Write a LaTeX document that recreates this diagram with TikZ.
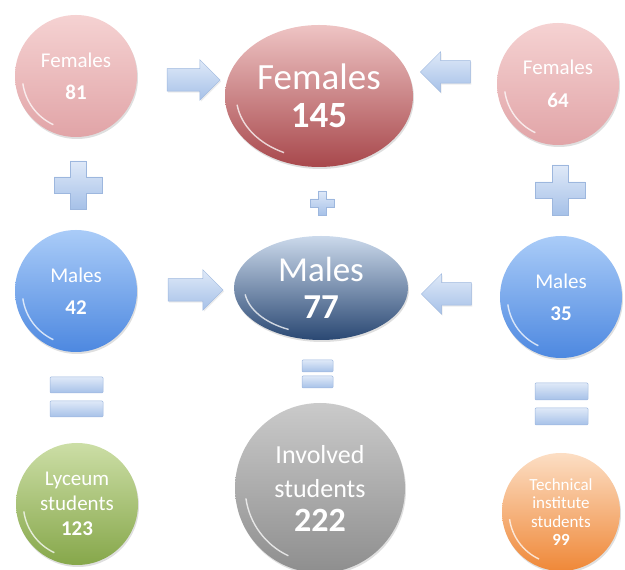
\documentclass[tikz,border=0pt]{standalone}
\usepackage{fontspec}
\setmainfont{Carlito}
\usetikzlibrary{shapes.geometric,shapes.arrows,shadows,calc}

\definecolor{femTop}{HTML}{F5D2D2}
\definecolor{femBot}{HTML}{E1A4A7}
\definecolor{femsTop}{HTML}{EEC4C4}
\definecolor{femsBot}{HTML}{A8484C}
\definecolor{malTop}{HTML}{AACCF8}
\definecolor{malBot}{HTML}{4D88E0}
\definecolor{malsTop}{HTML}{CBD9EB}
\definecolor{malsBot}{HTML}{2A4873}
\definecolor{lycTop}{HTML}{CCDEA6}
\definecolor{lycBot}{HTML}{86A74A}
\definecolor{invTop}{HTML}{CACACA}
\definecolor{invBot}{HTML}{8E8E8E}
\definecolor{tecTop}{HTML}{FCDEC4}
\definecolor{tecBot}{HTML}{EF8838}
\definecolor{symTop}{HTML}{DFE9F8}
\definecolor{symBot}{HTML}{A6C1E8}
\definecolor{symEdge}{HTML}{9DB7DE}

% white glass rim on the lower left of a bubble
\newcommand{\glossrim}{%
  \draw[white,line width=1.4pt,opacity=.75]
    let \p1=(path picture bounding box.north east),
        \p2=(path picture bounding box.center),
        \n1={\x1-\x2}, \n2={\y1-\y2}
    in ($(\p2)+(188:{0.88*\n1} and {0.88*\n2})$)
       arc[start angle=188,end angle=245,x radius=0.88*\n1,y radius=0.88*\n2];}

% plus sign: centre, half arm, half thickness
\newcommand{\plussign}[3]{%
  \path[sym] (#1) ++(-#3,-#2) -- ++(2*#3,0) -- ++(0,#2-#3) -- ++(#2-#3,0)
    -- ++(0,2*#3) -- ++(-#2+#3,0) -- ++(0,#2-#3) -- ++(-2*#3,0)
    -- ++(0,-#2+#3) -- ++(-#2+#3,0) -- ++(0,-2*#3) -- ++(#2-#3,0) -- cycle;}

\tikzset{
  bubble/.style={circle,inner sep=0pt,text=white,align=center,
    drop shadow={opacity=.25,shadow xshift=1pt,shadow yshift=-2pt},
    path picture={\glossrim}},
  oval/.style={ellipse,inner sep=0pt,text=white,align=center,
    drop shadow={opacity=.25,shadow xshift=1pt,shadow yshift=-2pt},
    path picture={\glossrim}},
  sym/.style={top color=symTop,bottom color=symBot,draw=symEdge,line width=.5pt},
  blockarrow/.style={single arrow,sym,inner sep=0pt,text height=22pt,text depth=0pt,
    single arrow head extend=9pt,
    drop shadow={opacity=.15,shadow xshift=1pt,shadow yshift=-1.5pt}}
}

\begin{document}
\begin{tikzpicture}[x=1pt,y=1pt]
  \useasboundingbox (0,0) rectangle (625,570);

  % females row
  \node (F81) at (76,494) [bubble,minimum size=122pt,top color=femTop,bottom color=femBot,
    font=\fontsize{21}{32}\selectfont] {Females\\\textbf{81}};
  \node (F145) at (319,474) [oval,minimum width=188pt,minimum height=142pt,
    top color=femsTop,bottom color=femsBot,font=\fontsize{37}{38}\selectfont] {Females\\\textbf{145}};
  \node (F64) at (558,486) [bubble,minimum size=122pt,top color=femTop,bottom color=femBot,
    font=\fontsize{21}{33}\selectfont] {Females\\\textbf{64}};

  % males row
  \node (M42) at (76,279) [bubble,minimum size=122pt,top color=malTop,bottom color=malBot,
    font=\fontsize{21}{32}\selectfont] {Males\\\textbf{42}};
  \node (M77) at (321,282) [oval,minimum width=174pt,minimum height=104pt,
    top color=malsTop,bottom color=malsBot,font=\fontsize{35}{37}\selectfont] {Males\\\textbf{77}};
  \node (M35) at (561,273) [bubble,minimum size=122pt,top color=malTop,bottom color=malBot,
    font=\fontsize{21}{32}\selectfont] {Males\\\textbf{35}};

  % totals row
  \node (LYC) at (77,66) [bubble,minimum size=122pt,top color=lycTop,bottom color=lycBot,
    font=\fontsize{21}{25}\selectfont] {Lyceum\\students\\\textbf{123}};
  \node (INV) at (320,82) [bubble,minimum size=170pt,top color=invTop,bottom color=invBot,
    font=\fontsize{26}{34}\selectfont] {Involved\\students\\{\fontsize{34}{37}\selectfont\bfseries 222}};
  \node (TEC) at (561,58) [bubble,minimum size=118pt,top color=tecTop,bottom color=tecBot,
    font=\fontsize{17}{18.5}\selectfont] {Technical\\institute\\students\\\textbf{99}};

  % block arrows
  \node (A1) at (188,490) [blockarrow,minimum height=53pt] {};
  \node (A2) at (451,498) [blockarrow,minimum height=50pt,shape border rotate=180] {};
  \node (A3) at (190,280) [blockarrow,minimum height=55pt] {};
  \node (A4) at (452,276) [blockarrow,minimum height=50pt,shape border rotate=180] {};

  % plus signs
  \coordinate (P1) at (78,385);
  \coordinate (P2) at (322,367);
  \coordinate (P3) at (560,380);
  \plussign{P1}{24}{8}
  \plussign{P2}{12}{4}
  \plussign{P3}{25}{8}

  % equal signs
  \path[sym,rounded corners=1pt] (50,177) rectangle (103,193);
  \path[sym,rounded corners=1pt] (50,153) rectangle (103,169);
  \path[sym,rounded corners=1pt] (302,198) rectangle (333,210);
  \path[sym,rounded corners=1pt] (302,182) rectangle (333,194);
  \path[sym,rounded corners=1pt] (535,170) rectangle (588,187);
  \path[sym,rounded corners=1pt] (535,145) rectangle (588,162);
\end{tikzpicture}
\end{document}
